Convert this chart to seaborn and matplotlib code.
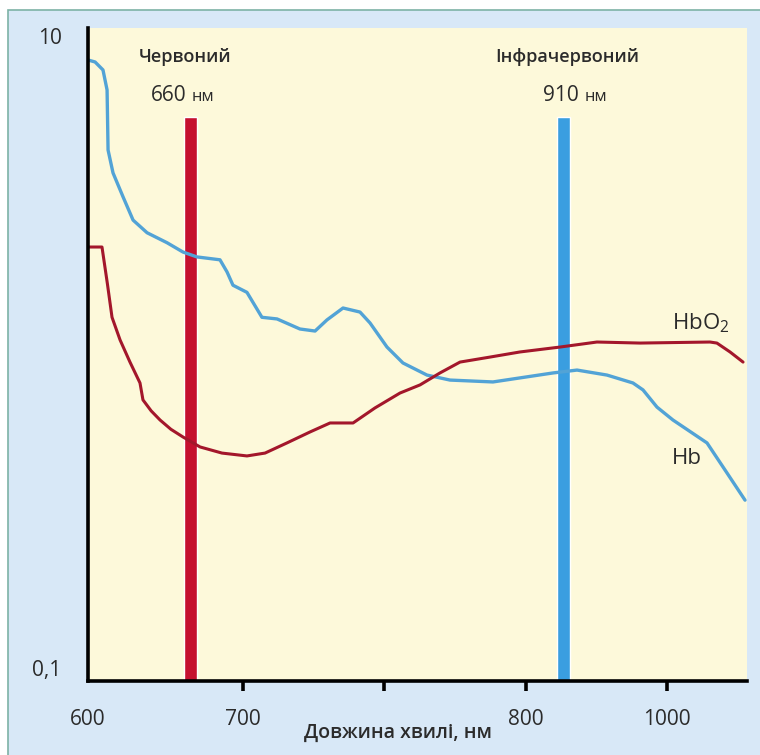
import pandas as pd
import matplotlib.pyplot as plt
from matplotlib.patches import Rectangle
from matplotlib.ticker import NullLocator
import seaborn as sns

# x is the position along the drawn wavelength axis (tick units: 1 = 700, 3 = 800, 4 = 1000)
hb_x = [-0.097, -0.047, 0.009, 0.038, 0.045, 0.080, 0.151, 0.222, 0.321, 0.462, 0.575,
        0.674, 0.837, 0.887, 0.929, 1.028, 1.134, 1.241, 1.403, 1.510, 1.594, 1.708,
        1.828, 1.899, 2.019, 2.132, 2.302, 2.465, 2.769, 3.194, 3.364, 3.576, 3.760,
        3.831, 3.930, 4.043, 4.284, 4.425, 4.553]
hb_y = [7.98, 7.87, 7.44, 6.46, 4.23, 3.60, 3.04, 2.58, 2.36, 2.20, 2.06,
        1.99, 1.95, 1.79, 1.63, 1.55, 1.30, 1.285, 1.197, 1.18, 1.276, 1.388,
        1.349, 1.249, 1.054, 0.942, 0.865, 0.835, 0.824, 0.878, 0.896, 0.865, 0.818,
        0.779, 0.690, 0.630, 0.536, 0.434, 0.358]

hbo2_x = [-0.097, 0.002, 0.040, 0.073, 0.130, 0.200, 0.271, 0.292, 0.350, 0.413, 0.490,
          0.575, 0.696, 0.851, 1.028, 1.156, 1.311, 1.474, 1.616, 1.779, 1.934, 2.111,
          2.253, 2.394, 2.536, 2.748, 2.960, 3.244, 3.505, 3.810, 4.305, 4.354, 4.447,
          4.539]
hbo2_y = [2.134, 2.134, 1.65, 1.30, 1.108, 0.948, 0.818, 0.726, 0.672, 0.630, 0.590,
          0.559, 0.521, 0.499, 0.489, 0.499, 0.536, 0.579, 0.617, 0.617, 0.686, 0.762,
          0.807, 0.878, 0.948, 0.982, 1.018, 1.054, 1.092, 1.084, 1.092, 1.084, 1.018,
          0.948]

band_names = ['Червоний', 'Інфрачервоний']
band_nm = ['660', '910']
band_x = [0.625, 3.265]
band_top = [5.34, 5.34]
band_colors = ['#c5102f', '#3a9ee0']

tick_pos = [-0.097, 1, 2, 3, 4]
tick_labels = ['600', '700', '', '800', '1000']

sns.set_style('white')
plt.rcParams['font.family'] = ['Open Sans', 'DejaVu Sans']
plt.rcParams['mathtext.fontset'] = 'custom'
plt.rcParams['mathtext.rm'] = 'Open Sans'
text_color = '#2b2b2b'

fig = plt.figure(figsize=(7.6, 7.55), dpi=100)
fig.patch.set_facecolor('white')
fig.add_artist(Rectangle((8 / 760, -0.01), 1.0, 1 - 10 / 755 + 0.01, transform=fig.transFigure,
                         facecolor='#d8e8f7', edgecolor='#7db2a6', lw=1.2, zorder=0))

ax = fig.add_axes([88 / 760, 1 - 681 / 755, 659 / 760, 653 / 755])
ax.set_facecolor('#fdf9da')

# vertical wavelength bands
ax.bar(band_x, [t - 0.1 for t in band_top], bottom=0.1, width=0.092,
       color=band_colors, zorder=1)

hb = pd.DataFrame({'x': hb_x, 'y': hb_y})
hbo2 = pd.DataFrame({'x': hbo2_x, 'y': hbo2_y})
sns.lineplot(data=hb, x='x', y='y', ax=ax, color='#52a3d6', lw=2.4,
             estimator=None, sort=False, zorder=3, solid_joinstyle='round')
sns.lineplot(data=hbo2, x='x', y='y', ax=ax, color='#a3172b', lw=2.2,
             estimator=None, sort=False, zorder=3, solid_joinstyle='round')

ax.set_yscale('log')
ax.set_ylim(0.1, 10)
ax.set_xlim(-0.097, 4.567)

for s in ['top', 'right']:
    ax.spines[s].set_visible(False)
for s in ['left', 'bottom']:
    ax.spines[s].set_color('black')
    ax.spines[s].set_linewidth(2.6)
    ax.spines[s].set_zorder(5)

ax.set_xticks(tick_pos)
ax.set_xticklabels(tick_labels)
ax.tick_params(axis='x', bottom=True, length=7, width=2.6, direction='out', pad=13,
               labelsize=15, labelcolor=text_color, color='black')
ax.xaxis.get_major_ticks()[0].tick1line.set_visible(False)

ax.yaxis.set_minor_locator(NullLocator())
ax.set_yticks([0.1, 10])
ax.set_yticklabels(['0,1', '10'])
ax.tick_params(axis='y', left=False, length=0, pad=19, labelsize=15, labelcolor=text_color)
ylabs = ax.get_yticklabels()
ylabs[0].set_va('bottom')
ylabs[1].set_va('top')

ax.set_xlabel('Довжина хвилі, нм', fontsize=14, fontweight='semibold', color=text_color)
ax.set_ylabel('')
ax.xaxis.set_label_coords(0.47, -0.064)

# band captions
for name, xf in zip(band_names, [0.148, 0.727]):
    ax.text(xf, 0.955, name, transform=ax.transAxes, ha='center', va='center',
            fontsize=13, fontweight='semibold', color=text_color)
caption_split = [(186 - 88) / 659, (579 - 88) / 659]
for nm, xs in zip(band_nm, caption_split):
    ax.text(xs, 0.897, nm, transform=ax.transAxes, ha='right', va='center',
            fontsize=15, color=text_color)
    ax.text(xs + 0.008, 0.895, 'нм', transform=ax.transAxes, ha='left', va='center',
            fontsize=12, color=text_color)

ax.text(0.886, 0.548, r'HbO$_2$', transform=ax.transAxes, ha='left', va='center',
        fontsize=16, color=text_color)
ax.text(0.886, 0.341, 'Hb', transform=ax.transAxes, ha='left', va='center',
        fontsize=16, color=text_color)

fig.savefig('out.png', dpi=100)
